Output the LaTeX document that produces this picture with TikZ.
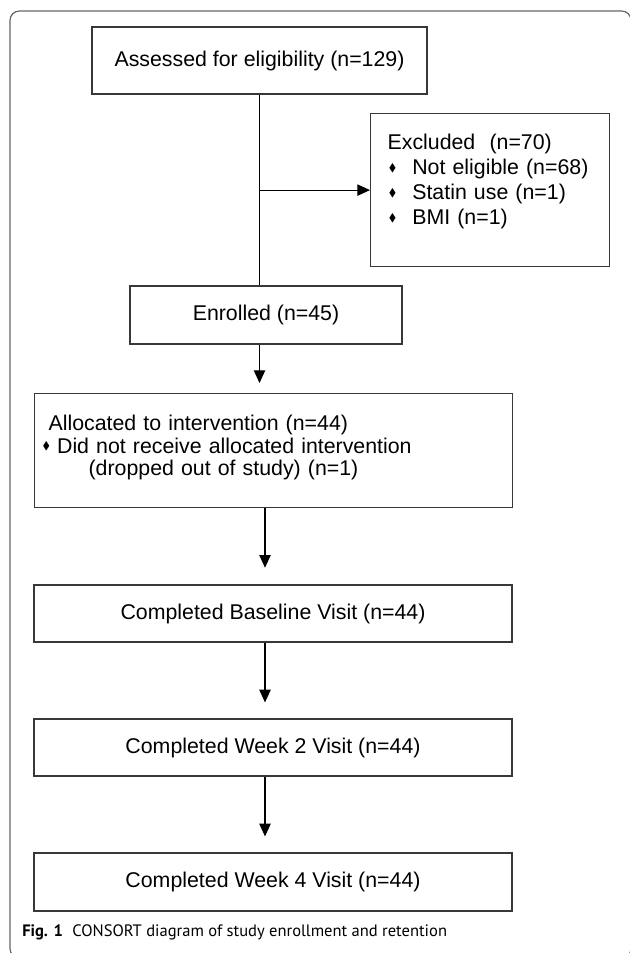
\documentclass[tikz,border=0pt]{standalone}
\usepackage{amssymb}
\usepackage{fontspec}
\setmainfont{Liberation Sans}
\newfontfamily\capfont{PT Sans}
\usetikzlibrary{arrows.meta}
\newcommand{\dmd}{\raisebox{.3ex}{\scalebox{.52}{$\blacklozenge$}}}

\begin{document}
\begin{tikzpicture}[x=.75pt,y=-.75pt,>={Triangle[length=9.5pt,width=8.5pt]},
    every node/.style={font=\fontsize{16}{18.75}\selectfont},
    box/.style={draw=black!78,line width=.9pt,inner sep=0pt,minimum height=#1},
    wide/.style={box=#1,minimum width=358.5pt},
    tbox/.style={draw=black!78,line width=.9pt,anchor=north west,align=left,text height=10pt},
    conn/.style={->,line width=.9pt}]
    \useasboundingbox (0,0) rectangle (630,953);
    \clip (0,0) rectangle (630,953);
    % frame of the figure
    \draw[draw=black!60,line width=.9pt,rounded corners=7pt] (10,11) rectangle (631,958);

    \node[box=50.25pt,minimum width=251.25pt] (asd) at (259.5,60.5) {Assessed for eligibility (n=129)};
    \node[tbox,inner xsep=12.75pt,inner ysep=17pt,text width=153.75pt,text depth=70.75pt] (excl) at (370,113)
        {Excluded\ \ (n=70)\\
         \hspace*{1pt}\dmd\hspace*{12pt}Not eligible (n=68)\\
         \hspace*{1pt}\dmd\hspace*{12pt}Statin use (n=1)\\
         \hspace*{1pt}\dmd\hspace*{12pt}BMI (n=1)};
    \node[box=43.5pt,minimum width=204pt] (enr) at (266,315) {Enrolled (n=45)};
    \node[tbox,inner xsep=6pt,inner ysep=17.75pt,text width=346.5pt,text depth=40pt,
          font=\fontsize{16}{16.9}\selectfont] (alloc) at (34,393)
        {\hspace*{4.5pt}Allocated to intervention (n=44)\\
         \dmd\ Did not receive allocated intervention\\
         \hspace*{34.5pt}(dropped out of study) (n=1)};
    \node[wide=42.75pt] (base) at (273,613.5) {Completed Baseline Visit (n=44)};
    \node[wide=42.75pt] (wk2) at (273,747.5) {Completed Week 2 Visit (n=44)};
    \node[wide=43.5pt] (wk4) at (273,882) {Completed Week 4 Visit (n=44)};

    \node[anchor=base west,inner sep=0pt,font=\capfont\fontsize{12.4}{14}\selectfont] (cap) at (22,936)
        {\textbf{Fig. 1}\hspace{7pt}CONSORT diagram of study enrollment and retention};

    \draw[line width=.9pt] (asd.south) -- (asd.south |- enr.north);
    \draw[conn] (asd.south |- excl.west) -- (excl.west);
    \draw[conn,shorten >=7.5pt] (asd.south |- enr.south) -- (asd.south |- alloc.north);
    \draw[conn,shorten >=12.5pt] ([xshift=-6pt]alloc.south -| base.north) -- ([xshift=-6pt]base.north);
    \draw[conn,shorten >=12pt] ([xshift=-6pt]base.south) -- ([xshift=-6pt]wk2.north);
    \draw[conn,shorten >=12pt] ([xshift=-6pt]wk2.south) -- ([xshift=-6pt]wk4.north);
\end{tikzpicture}
\end{document}
